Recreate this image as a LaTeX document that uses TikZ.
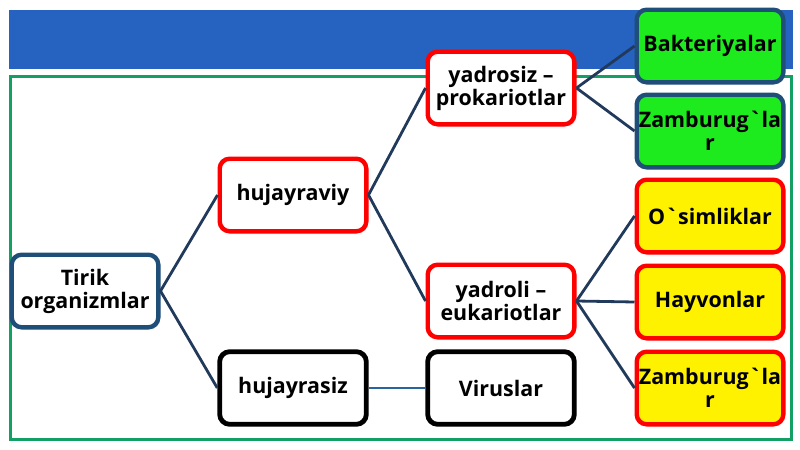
\documentclass[tikz,border=0pt]{standalone}
\usepackage{fontspec}
\setmainfont{Open Sans}
\usepackage{tikz}
\usetikzlibrary{shadows}

\definecolor{banner}{RGB}{38,98,192}
\definecolor{frame}{RGB}{20,160,100}
\definecolor{navy}{RGB}{31,78,121}
\definecolor{link}{RGB}{33,58,92}
\definecolor{vlink}{RGB}{40,100,160}
\definecolor{leafgreen}{RGB}{30,235,30}

\begin{document}
\begin{tikzpicture}[x=0.5pt,y=-0.5pt,
		box/.style={rounded corners=5pt,line width=2.2pt,fill=white,minimum width=73.3pt,minimum height=36.3pt,
			align=center,inner sep=1pt,font=\bfseries\fontsize{10.7}{11.5}\selectfont,
			drop shadow={opacity=0.2,shadow xshift=1pt,shadow yshift=-1pt}},
		rootbox/.style={box,draw=navy},
		redbox/.style={box,draw=red},
		blackbox/.style={box,draw=black,line width=2.4pt},
		greenbox/.style={box,draw=navy,fill=leafgreen},
		yellowbox/.style={box,draw=red,fill=yellow},
		link/.style={draw=link,line width=1.4pt}]
			\useasboundingbox (0,0) rectangle (800,450);
			\fill[banner] (9,10) rectangle (793,69);
			\draw[frame,line width=1.5pt] (10,76) rectangle (791,439);
			\node[rootbox] (root) at (85,291) {Tirik\\organizmlar};
			\node[redbox] (cell) at (293,195) {hujayraviy};
			\node[blackbox] (nocell) at (293,388) {hujayrasiz};
			\node[redbox] (prok) at (501,88) {yadrosiz –\\prokariotlar};
			\node[redbox] (euk) at (501,301) {yadroli –\\eukariotlar};
			\node[blackbox] (vir) at (501,388) {Viruslar};
			\node[greenbox] (bak) at (710,46) {Bakteriyalar};
			\node[greenbox] (zamg) at (710,131) {Zamburug\textasciigrave la\\r};
			\node[yellowbox] (osim) at (710,216) {O\textasciigrave simliklar};
			\node[yellowbox] (hay) at (710,302) {Hayvonlar};
			\node[yellowbox] (zamy) at (710,388) {Zamburug\textasciigrave la\\r};
			\draw[link] (root.east) -- (cell.west);
			\draw[link] (root.east) -- (nocell.west);
			\draw[link] (cell.east) -- (prok.west);
			\draw[link] (cell.east) -- (euk.west);
			\draw[link,draw=vlink] (nocell.east) -- (vir.west);
			\draw[link] (prok.east) -- (bak.west);
			\draw[link] (prok.east) -- (zamg.west);
			\draw[link] (euk.east) -- (osim.west);
			\draw[link] (euk.east) -- (hay.west);
			\draw[link] (euk.east) -- (zamy.west);
		\end{tikzpicture}
\end{document}
